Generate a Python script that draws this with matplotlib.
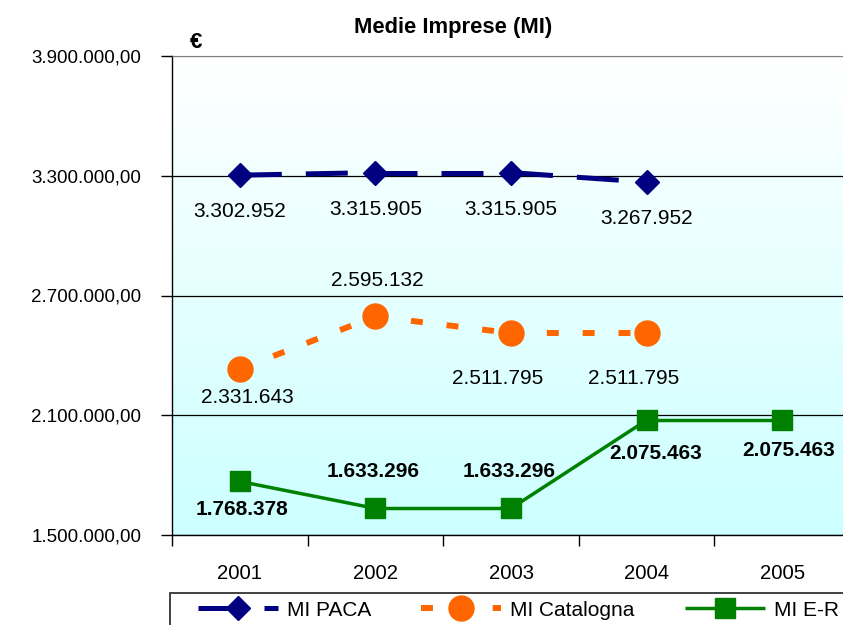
import matplotlib
matplotlib.use("Agg")
import matplotlib.pyplot as plt
import numpy as np
from matplotlib.lines import Line2D
from matplotlib.patches import Rectangle
from matplotlib.colors import LinearSegmentedColormap

plt.rcParams['font.family'] = ['Liberation Sans', 'DejaVu Sans']

# ---------------- dati ----------------
anni = ['2001', '2002', '2003', '2004', '2005']
paca = [3302952, 3315905, 3315905, 3267952]
catalogna = [2331643, 2595132, 2511795, 2511795]
emilia = [1768378, 1633296, 1633296, 2075463, 2075463]
y_ticks = [1500000, 2100000, 2700000, 3300000, 3900000]


def fmt_it(v, dec=False):
    s = f"{v:,.0f}".replace(",", ".")
    return s + ",00" if dec else s


W, H = 843, 625
fig = plt.figure(figsize=(W / 100, H / 100), dpi=100)
ax = fig.add_axes([172 / W, 90 / H, 678 / W, 479 / H])

# sfondo sfumato bianco -> azzurro
cmap = LinearSegmentedColormap.from_list('bg', ['#FFFFFF', '#CCFFFF'])
ax.imshow(np.linspace(0, 1, 256).reshape(-1, 1), extent=(0.5, 5.5, 1.5e6, 3.9e6),
          aspect='auto', cmap=cmap, zorder=0, interpolation='bilinear')

# nome, valori, stile, grassetto, offset etichette (px: dx, dy verso il basso)
serie = [
    ("MI PACA", paca,
     dict(color='#000080', lw=3.6, dashes=(8.4, 4.8), marker='D', ms=12.5),
     'normal', [(0, 36), (0, 37), (0, 37), (0, 36)]),
    ("MI Catalogna", catalogna,
     dict(color='#FF6600', lw=4.3, dashes=(2.0, 4.0), marker='o', ms=18),
     'normal', [(8, 28), (2, -36), (-13, 45), (-13, 45)]),
    ("MI E-R", emilia,
     dict(color='#008000', lw=2.5, dashes=(None, None), marker='s', ms=15),
     'bold', [(2, 28), (-2, -37), (-2, -37), (9, 33), (6, 30)]),
]

handles = []
for nome, valori, st, peso, offs in serie:
    x = np.arange(1, len(valori) + 1)
    # ogni segmento ricomincia il tratteggio (come Excel)
    for i in range(len(valori) - 1):
        ln, = ax.plot(x[i:i + 2], valori[i:i + 2], color=st['color'], lw=st['lw'],
                      solid_capstyle='butt', dash_capstyle='butt', zorder=3)
        if st['dashes'][0] is not None:
            ln.set_dashes(st['dashes'])
    ax.plot(x, valori, ls='none', marker=st['marker'], ms=st['ms'],
            color=st['color'], mec=st['color'], zorder=4)
    for xi, v, (dx, dy) in zip(x, valori, offs):
        ax.annotate(fmt_it(v), (xi, v), xytext=(dx * 0.72, -dy * 0.72),
                    textcoords='offset points', ha='center', va='center',
                    fontsize=15, fontweight=peso, color='black', zorder=5)
    h = Line2D([], [], color=st['color'], lw=st['lw'], marker=st['marker'],
               ms=st['ms'], mec=st['color'], dash_capstyle='butt', solid_capstyle='butt')
    if st['dashes'][0] is not None:
        h.set_dashes(st['dashes'])
    handles.append(h)

# ---------------- assi ----------------
ax.set_xlim(0.5, 5.5)
ax.set_ylim(1.5e6, 3.9e6)
ax.set_yticks(y_ticks)
ax.set_yticklabels([fmt_it(v, True) for v in y_ticks])
ax.tick_params(axis='y', length=8, width=1, pad=14, labelsize=13.5, direction='out')
ax.set_xticks(np.arange(0.5, 6.0, 1.0))
ax.set_xticklabels([])
ax.set_xticks(np.arange(1, 6), minor=True)
ax.set_xticklabels(anni, minor=True)
ax.tick_params(axis='x', which='major', length=8, width=1, direction='out')
ax.tick_params(axis='x', which='minor', length=0, pad=21, labelsize=14.6)

ax.yaxis.grid(True, color='black', lw=0.9)
ax.yaxis.get_gridlines()[-1].set_color('#808080')
ax.set_axisbelow(False)
for gl in ax.yaxis.get_gridlines():
    gl.set_zorder(1)
ax.spines['top'].set_color('#808080')
ax.spines['right'].set_visible(False)
ax.spines['left'].set_linewidth(1)
ax.spines['bottom'].set_linewidth(1)

# ---------------- testi ----------------
fig.text(453 / W, 1 - 28 / H, "Medie Imprese (MI)", ha='center', va='center',
         fontsize=15.8, fontweight='bold')
fig.text(196 / W, 1 - 42 / H, "€", ha='center', va='center',
         fontsize=16, fontweight='bold')

# ---------------- legenda ----------------
fig.patches.append(Rectangle((170 / W, -0.05), 1.0, 0.05 + (625 - 593) / H,
                             transform=fig.transFigure, fill=False,
                             edgecolor='#333333', lw=1.3))
ax.legend(handles, [s[0] for s in serie], loc='center left',
          bbox_to_anchor=(198 / W, 1 - 610 / H), bbox_transform=fig.transFigure,
          ncol=3, frameon=False, borderpad=0, borderaxespad=0, fontsize=15,
          handlelength=3.84, handletextpad=0.43, columnspacing=2.4, numpoints=1)

fig.savefig("out.png", dpi=100)
